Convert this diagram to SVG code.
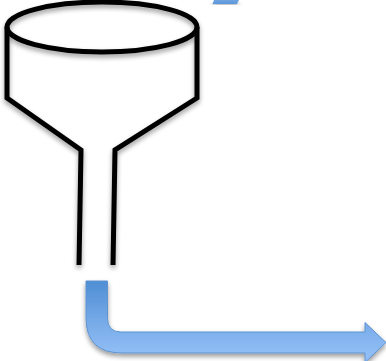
<svg xmlns="http://www.w3.org/2000/svg" width="386" height="361" viewBox="0 0 386 361">
<defs>
<linearGradient id="blue" gradientUnits="userSpaceOnUse" x1="0" y1="281" x2="0" y2="353"><stop offset="0" stop-color="#4f8ed4"/><stop offset="0.6" stop-color="#78ace9"/><stop offset="1" stop-color="#90bdf5"/></linearGradient>
<linearGradient id="blue2" gradientUnits="userSpaceOnUse" x1="0" y1="0" x2="0" y2="4"><stop offset="0" stop-color="#6ea3df"/><stop offset="1" stop-color="#5b97da"/></linearGradient>
<filter id="sh" x="-10%" y="-10%" width="125%" height="125%"><feGaussianBlur in="SourceAlpha" stdDeviation="2.500"/><feOffset dx="0" dy="3"/><feComponentTransfer><feFuncA type="linear" slope="0.4"/></feComponentTransfer><feMerge><feMergeNode/><feMergeNode in="SourceGraphic"/></feMerge></filter>
<style>.ln{fill:none;stroke:#000;stroke-width:5;stroke-linejoin:miter;stroke-linecap:butt}.ar{stroke:#5f93cf;stroke-width:1}</style>
</defs>
<g id="funnel" filter="url(#sh)">
<path class="ln" d="M7 27V98L81 150L79 265"/>
<path class="ln" d="M197 27V98L115 150L113 265"/>
<ellipse class="ln" cx="102" cy="27" rx="95" ry="25"/>
</g>
<g id="connectors">
<path id="flow-out" class="ar" fill="url(#blue)" filter="url(#sh)" d="M86 281H107.500V318Q107.500 332 121 332H365V322.500L386 342.500L365 362.500V353H122Q86 353 86 318Z"/>
<path id="flow-in" fill="url(#blue2)" filter="url(#sh)" d="M214 0H239L237 4H212.500Z"/>
</g>
</svg>
